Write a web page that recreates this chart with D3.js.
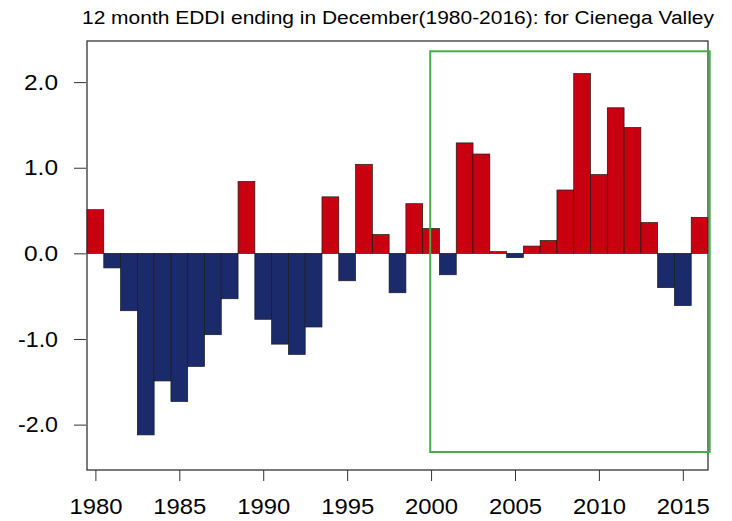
<!DOCTYPE html>
<html>
<head>
<meta charset="utf-8">
<script src="https://cdn.jsdelivr.net/npm/d3@7"></script>
<style>
  body { margin: 0; background: #fff; }
  svg text { font-family: "Liberation Sans", Arial, sans-serif; fill: #000; }
</style>
</head>
<body>
<svg id="chart" width="732" height="521"></svg>
<script>
// EDDI values, one per year
const years = d3.range(1980, 2017);
const eddi = [
  0.51, -0.17, -0.67, -2.12, -1.49, -1.73, -1.32, -0.95, -0.53, 0.84,
  -0.77, -1.06, -1.18, -0.86, 0.66, -0.32, 1.04, 0.22, -0.46, 0.58,
  0.29, -0.25, 1.29, 1.16, 0.02, -0.05, 0.085, 0.15, 0.74, 2.10,
  0.92, 1.70, 1.47, 0.36, -0.40, -0.61, 0.42
];
const xTicks = [1980, 1985, 1990, 1995, 2000, 2005, 2010, 2015];
const yTicks = [-2, -1, 0, 1, 2];
// highlighted period (years, EDDI units)
const boxYears = [1999.95, 2016.6];
const boxRange = [-2.32, 2.36];

const svg = d3.select("#chart");
const m = { left: 87, right: 708, top: 41, bottom: 470 };

const x = d3.scaleLinear().domain([1979.5, 2016.5]).range([m.left, m.right]);
const y = d3.scaleLinear().domain([-2.53, 2.48]).range([m.bottom, m.top]);

// bars
svg.append("g").selectAll("rect")
  .data(years.map((yr, i) => ({ yr, v: eddi[i] })))
  .enter().append("rect")
  .attr("x", d => x(d.yr - 0.5))
  .attr("width", d => x(d.yr + 0.5) - x(d.yr - 0.5))
  .attr("y", d => y(Math.max(0, d.v)))
  .attr("height", d => Math.abs(y(d.v) - y(0)))
  .attr("fill", d => d.v >= 0 ? "#c8000f" : "#1b2a6b")
  .attr("stroke", "#1a1a1a")
  .attr("stroke-width", 0.7);

// frame
svg.append("rect")
  .attr("x", m.left).attr("y", m.top)
  .attr("width", m.right - m.left).attr("height", m.bottom - m.top)
  .attr("fill", "none").attr("stroke", "#333").attr("stroke-width", 1.3);

// green highlight box
svg.append("rect")
  .attr("x", x(boxYears[0])).attr("y", y(boxRange[1]))
  .attr("width", x(boxYears[1]) - x(boxYears[0]))
  .attr("height", y(boxRange[0]) - y(boxRange[1]))
  .attr("fill", "none").attr("stroke", "#45ad4a").attr("stroke-width", 2);

// x axis
const xAxis = svg.append("g")
  .attr("transform", `translate(0,${m.bottom})`)
  .call(d3.axisBottom(x).tickValues(xTicks).tickFormat(d3.format("d"))
    .tickSize(11).tickPadding(17));
xAxis.select(".domain").remove();
xAxis.selectAll("line").attr("stroke", "#333");
xAxis.selectAll("text")
  .style("font-size", "22px")
  .attr("textLength", 53)
  .attr("lengthAdjust", "spacingAndGlyphs");

// y axis
const yAxis = svg.append("g")
  .attr("transform", `translate(${m.left - 1},0)`)
  .call(d3.axisLeft(y).tickValues(yTicks).tickFormat(d3.format(".1f"))
    .tickSize(12).tickPadding(16));
yAxis.select(".domain").remove();
yAxis.selectAll("line").attr("stroke", "#333");
yAxis.selectAll("text")
  .style("font-size", "22px")
  .text(d => d3.format(".1f")(d).replace("−", "-"))
  .attr("textLength", d => d < 0 ? 40 : 34)
  .attr("lengthAdjust", "spacingAndGlyphs");

// title
svg.append("text")
  .attr("x", 82).attr("y", 24)
  .style("font-size", "18px")
  .attr("textLength", 632)
  .attr("lengthAdjust", "spacingAndGlyphs")
  .text("12 month EDDI ending in December(1980-2016): for Cienega Valley");
</script>
</body>
</html>
